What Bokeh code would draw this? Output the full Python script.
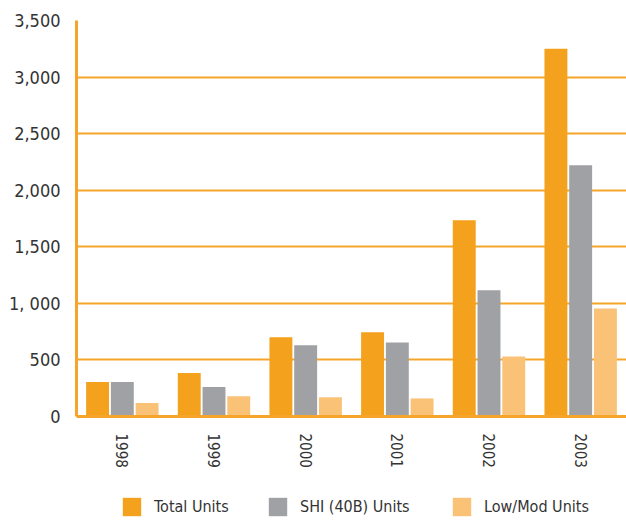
from bokeh.plotting import figure
from bokeh.models import ColumnDataSource, Legend, LegendItem, FixedTicker, Range1d
from bokeh.transform import dodge
from bokeh.embed import file_html
from bokeh.resources import INLINE

years = ["1998", "1999", "2000", "2001", "2002", "2003"]
total_units = [305, 385, 700, 745, 1735, 3250]
shi_units = [305, 260, 630, 655, 1115, 2220]
lowmod_units = [120, 180, 170, 160, 530, 955]
y_ticks = [0, 500, 1000, 1500, 2000, 2500, 3000, 3500]
y_tick_labels = ["0", "500", "1, 000", "1,500", "2,000", "2,500", "3,000", "3,500"]
series_labels = ["Total Units", "SHI (40B) Units", "Low/Mod Units"]

C_TOTAL = "#F4A11D"
C_SHI = "#A0A1A5"
C_LOW = "#F9C277"
AXIS_C = "#F5A52A"
TEXT_C = "#333333"
FONT = "DejaVu Sans Condensed"

src = ColumnDataSource(dict(years=years, total=total_units, shi=shi_units, low=lowmod_units))

# frame spans down to the bottom of the canvas so the legend can sit below the x axis
p = figure(x_range=years, y_range=Range1d(-919, 3500), width=626, height=520,
           output_backend="svg", toolbar_location=None,
           min_border_left=76, min_border_top=20, min_border_right=0,
           min_border_bottom=0)
p.outline_line_color = None
p.background_fill_color = "white"

r1 = p.vbar(x=dodge("years", -0.27, range=p.x_range), top="total", width=0.25,
            source=src, fill_color=C_TOTAL, line_color=None)
r2 = p.vbar(x=dodge("years", 0.0, range=p.x_range), top="shi", width=0.25,
            source=src, fill_color=C_SHI, line_color=None)
r3 = p.vbar(x=dodge("years", 0.27, range=p.x_range), top="low", width=0.25,
            source=src, fill_color=C_LOW, line_color=None)

p.xgrid.grid_line_color = None
p.ygrid.grid_line_color = AXIS_C
p.ygrid.grid_line_width = 2
p.ygrid.ticker = FixedTicker(ticks=y_ticks)

p.yaxis.ticker = FixedTicker(ticks=y_ticks)
p.yaxis.bounds = (0, 3500)
p.yaxis.major_label_overrides = {t: l for t, l in zip(y_ticks, y_tick_labels)}
p.yaxis.axis_line_color = AXIS_C
p.yaxis.axis_line_width = 3
p.yaxis.major_tick_line_color = None
p.yaxis.minor_tick_line_color = None
p.yaxis.major_label_standoff = 10
p.yaxis.major_label_text_font = FONT
p.yaxis.major_label_text_font_size = "18px"
p.yaxis.major_label_text_color = TEXT_C

p.xaxis.fixed_location = 0
p.xaxis.axis_line_color = AXIS_C
p.xaxis.axis_line_width = 3
p.xaxis.major_tick_line_color = None
p.xaxis.minor_tick_line_color = None
p.xaxis.major_label_orientation = "vertical"
p.xaxis.major_label_standoff = 11
p.xaxis.major_label_text_font = FONT
p.xaxis.major_label_text_font_size = "15px"
p.xaxis.major_label_text_color = TEXT_C

leg_x = [44, 190, 374]
for lab, r, x in zip(series_labels, [r1, r2, r3], leg_x):
    leg = Legend(items=[LegendItem(label=lab, renderers=[r])], location=(x, 2),
                 orientation="horizontal", glyph_width=23, glyph_height=23,
                 padding=0, margin=0, spacing=0, label_standoff=11,
                 border_line_color=None, background_fill_alpha=0,
                 label_text_font=FONT, label_text_font_size="16px",
                 label_text_color=TEXT_C, label_height=23)
    p.add_layout(leg)

open("out.html", "w").write(file_html(p, INLINE))
